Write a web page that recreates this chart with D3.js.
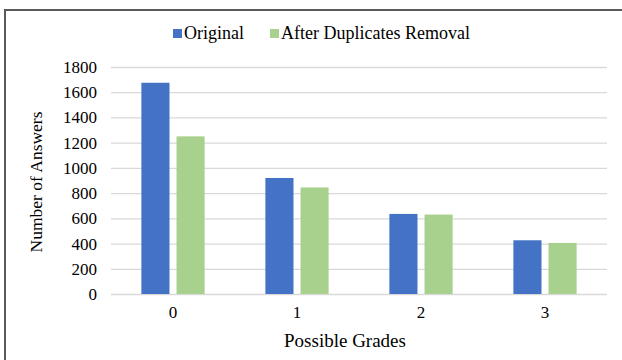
<!DOCTYPE html>
<html><head><meta charset="utf-8">
<script src="https://cdn.jsdelivr.net/npm/d3@7"></script>
<style>body{margin:0;background:#fff}svg{display:block}</style>
</head><body>
<svg id="c" width="622" height="360"></svg>
<script>
const categories = ["0","1","2","3"];
const seriesNames = ["Original","After Duplicates Removal"];
const original = [1675, 920, 635, 426];
const afterRemoval = [1250, 845, 630, 405];
const yTicks = [0,200,400,600,800,1000,1200,1400,1600,1800];
const colors = ["#4472C4","#A9D18E"];

(function(){
const svg = d3.select("#c");
const font = "'Liberation Serif','Times New Roman',serif";
const pLeft = 111, pRight = 607, pTop = 67, pBottom = 294;

svg.append("rect").attr("x",5).attr("y",10).attr("width",700).attr("height",400)
  .attr("fill","none").attr("stroke","#595959").attr("stroke-width",2);

const y = d3.scaleLinear().domain([0,1800]).range([pBottom, pTop]);
const x0 = d3.scaleBand().domain(categories).range([pLeft, pRight]).paddingInner(0.49).paddingOuter(0.245);
const x1 = d3.scaleBand().domain(seriesNames).range([0, x0.bandwidth()]).paddingInner(0.2);

const yAxis = d3.axisLeft(y).tickValues(yTicks).tickFormat(d3.format("d")).tickSize(-(pRight-pLeft)).tickPadding(14);
const gy = svg.append("g").attr("transform",`translate(${pLeft},0)`).call(yAxis);
gy.select(".domain").remove();
gy.selectAll(".tick line").attr("stroke","#d9d9d9").attr("stroke-width",1.3);
gy.selectAll(".tick text").attr("font-family",font).attr("font-size",17).attr("fill","#000");

const data = categories.map((c,i)=>({c, vals:[original[i], afterRemoval[i]]}));
const g = svg.append("g");
data.forEach(d=>{
  d.vals.forEach((v,j)=>{
    g.append("rect")
      .attr("x", x0(d.c) + x1(seriesNames[j]))
      .attr("y", y(v))
      .attr("width", x1.bandwidth())
      .attr("height", y(0)-y(v))
      .attr("fill", colors[j]);
  });
});

const xAxis = d3.axisBottom(x0).tickSize(0).tickPadding(12);
const gx = svg.append("g").attr("transform",`translate(0,${pBottom})`).call(xAxis);
gx.select(".domain").remove();
gx.selectAll(".tick text").attr("font-family",font).attr("font-size",17).attr("fill","#000");

svg.append("text").attr("x",345).attr("y",347).attr("text-anchor","middle")
  .attr("font-family",font).attr("font-size",19).text("Possible Grades");
svg.append("text").attr("transform","translate(42,182) rotate(-90)").attr("text-anchor","middle")
  .attr("font-family",font).attr("font-size",17.5).text("Number of Answers");

const legendX = [173, 270];
seriesNames.forEach((s,i)=>{
  svg.append("rect").attr("x",legendX[i]).attr("y",29).attr("width",9).attr("height",9).attr("fill",colors[i]);
  svg.append("text").attr("x",legendX[i]+11).attr("y",39).attr("font-family",font).attr("font-size",18).text(s);
});
})();
</script>
</body></html>
